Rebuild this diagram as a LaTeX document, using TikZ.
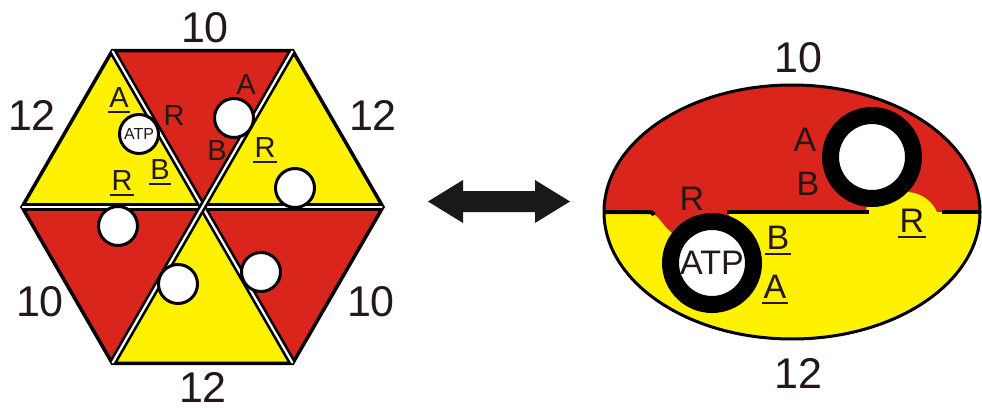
\documentclass[tikz,border=0pt]{standalone}
\usepackage{fontspec}
\setmainfont{Liberation Sans}
\definecolor{hred}{RGB}{218,37,29}
\definecolor{hyel}{RGB}{255,242,0}
\definecolor{ink}{RGB}{35,24,22}
\newcommand\myul[1]{\setbox0=\hbox{#1}\rlap{\smash{\kern-0.04em\rule[-0.17em]{\dimexpr\wd0+0.08em\relax}{0.07em}}}\box0}
\begin{document}
\begin{tikzpicture}[x=1pt,y=-1pt,
  num/.style={font=\fontsize{43}{43}\selectfont, text=ink, inner sep=0pt},
  lhex/.style={font=\fontsize{29}{29}\selectfont, text=ink, inner sep=0pt},
  lell/.style={font=\fontsize{34}{34}\selectfont, text=ink, inner sep=0pt},
  hole/.style={circle, draw=black, fill=white, line width=3pt, minimum size=39pt, inner sep=0pt},
  ringnode/.style={circle, draw=black, fill=white, line width=17pt, minimum size=83pt, inner sep=0pt}]
\useasboundingbox (0,0) rectangle (982,409);
% ---------- hexagon ----------
\coordinate (C) at (202.5,207);
\coordinate (V1) at (22,207);
\coordinate (V2) at (112.3,50.7);
\coordinate (V3) at (292.7,50.7);
\coordinate (V4) at (383,207);
\coordinate (V5) at (292.7,363.3);
\coordinate (V6) at (112.3,363.3);
\fill[hyel] (C)--(V1)--(V2)--cycle;
\fill[hred] (C)--(V2)--(V3)--cycle;
\fill[hyel] (C)--(V3)--(V4)--cycle;
\fill[hred] (C)--(V4)--(V5)--cycle;
\fill[hyel] (C)--(V5)--(V6)--cycle;
\fill[hred] (C)--(V6)--(V1)--cycle;
\draw[line width=3.5pt, line join=miter] (V1)--(V2)--(V3)--(V4)--(V5)--(V6)--cycle;
\begin{scope}
\clip (V1)--(V2)--(V3)--(V4)--(V5)--(V6)--cycle;
\foreach \a/\b in {V1/V4,V2/V5,V3/V6}{
  \draw[line width=7.5pt] (\a)--(\b);
  \draw[white, line width=2.2pt] (\a)--(\b);}
\end{scope}
\node[hole] (h1) at (139,134) {};
\node[font=\fontsize{16}{16}\selectfont, text=ink, inner sep=0pt] (atp1) at (139,134) {ATP};
\node[hole] (h2) at (234,118) {};
\node[hole] (h3) at (295,188) {};
\node[hole] (h4) at (118,226) {};
\node[hole] (h5) at (178,284) {};
\node[hole] (h6) at (261,272) {};
\node[lhex] (la1) at (119,98) {\myul{A}};
\node[lhex] (lr1) at (174,116) {R};
\node[lhex] (lb1) at (160,170) {\myul{B}};
\node[lhex] (lr2) at (122,181) {\myul{R}};
\node[lhex] (la2) at (246,85) {A};
\node[lhex] (lb2) at (217,151) {B};
\node[lhex] (lr3) at (265,148) {\myul{R}};
\node[num] (n1) at (205,28) {10};
\node[num] (n2) at (32,115) {12};
\node[num] (n3) at (373,115) {12};
\node[num] (n4) at (40,302) {10};
\node[num] (n5) at (371,302) {10};
\node[num] (n6) at (203,387) {12};
% ---------- arrow ----------
\fill[black!90] (428,201.5) -- (463,180) -- (463,191) -- (535,191) -- (535,180) -- (570,201.5)
  -- (535,223) -- (535,212) -- (463,212) -- (463,223) -- cycle;
% ---------- ellipse ----------
\begin{scope}
\clip (792,212) ellipse [x radius=188, y radius=127];
\fill[hred] (595,80) rectangle (990,212);
\fill[hyel] (595,212) rectangle (990,345);
\fill[hred] (646,212) .. controls (658,212) and (661,224) .. (671,232) -- (712,263) -- (730,212) -- cycle;
\fill[hyel] (906,226) circle[radius=34];
\fill[hyel] (866,212) -- (872,157) -- (910,193) -- (910,212) -- cycle;
\draw[line width=4pt] (590,212) -- (649,212) .. controls (652,212) and (653,213) .. (654,215);
\draw[line width=4pt] (727,212) -- (869,212);
\draw[line width=4pt] (942,212) -- (990,212);
\end{scope}
\draw[line width=3pt] (792,212) ellipse [x radius=188, y radius=127];
\node[ringnode] (r1) at (712,263) {};
\node[font=\fontsize{34}{34}\selectfont, text=ink, inner sep=0pt] (atp2) at (712,263) {ATP};
\node[ringnode] (r2) at (872,157) {};
\node[lell] (ea1) at (805,140) {A};
\node[lell] (eb1) at (808,184) {B};
\node[lell] (er1) at (692,199) {R};
\node[lell] (eb2) at (778,238) {\myul{B}};
\node[lell] (ea2) at (775,287) {\myul{A}};
\node[lell] (er2) at (912,221) {\myul{R}};
\node[num] (m1) at (798,58) {10};
\node[num] (m2) at (798,373) {12};
\end{tikzpicture}
\end{document}
